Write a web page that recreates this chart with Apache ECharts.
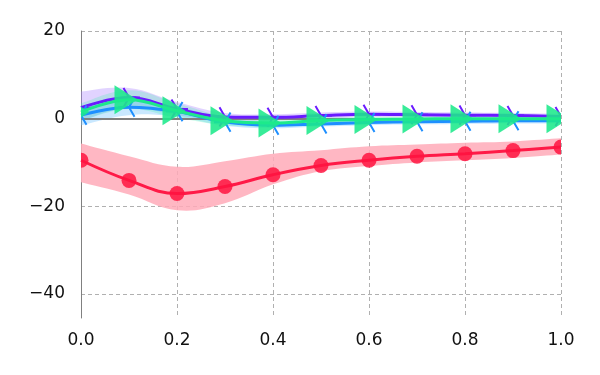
<!DOCTYPE html>
<html>
<head>
<meta charset="utf-8">
<script src="https://cdn.jsdelivr.net/npm/echarts@6/dist/echarts.min.js"></script>
<style>
  html, body { margin: 0; padding: 0; background: #fff; }
  #chart { width: 600px; height: 375px; }
</style>
</head>
<body>
<div id="chart"></div>
<script>
var xs = [0, 0.1, 0.2, 0.3, 0.4, 0.5, 0.6, 0.7, 0.8, 0.9, 1.0];

var redMean = [-9.5, -14.1, -17.1, -15.5, -12.8, -10.7, -9.5, -8.6, -8.0, -7.3, -6.5];
var redUp   = [-5.7, -8.6, -11.0, -9.7, -8.0, -7.2, -6.3, -5.9, -5.5, -5.2, -4.5];
var redLow  = [-14.5, -17.3, -20.9, -19.3, -15.0, -12.0, -10.8, -10.0, -9.5, -9.0, -8.2];

var purpleMean = [2.5, 4.8, 2.2, 0.4, 0.3, 0.7, 1.0, 0.9, 0.8, 0.7, 0.5];
var purpleUp   = [6.2, 7.0, 3.8, 1.3, 1.0, 1.4, 1.6, 1.5, 1.4, 1.3, 1.1];
var purpleLow  = [-0.5, 2.5, 0.8, -0.4, -0.4, 0.0, 0.4, 0.3, 0.2, 0.1, -0.1];

var blueMean = [0.8, 2.6, 1.6, -0.8, -1.5, -1.2, -0.9, -0.7, -0.6, -0.5, -0.5];
var blueUp   = [2.5, 4.5, 2.8, 0.0, -0.8, -0.6, -0.3, -0.1, 0.0, 0.1, 0.1];
var blueLow  = [-1.5, 0.8, 0.4, -1.6, -2.2, -1.8, -1.5, -1.3, -1.2, -1.1, -1.1];

var greenMean = [1.5, 4.3, 1.8, -0.5, -1.0, -0.4, -0.2, -0.1, 0.0, 0.0, 0.0];
var greenUp   = [3.5, 6.5, 3.5, 0.5, -0.3, 0.2, 0.4, 0.5, 0.6, 0.6, 0.6];
var greenLow  = [-0.5, 2.2, 0.2, -1.5, -1.8, -1.0, -0.8, -0.7, -0.6, -0.6, -0.6];

var yTicks = [-40, -20, 0, 20];

function pairs(ys) {
  return xs.map(function (x, i) { return [x, ys[i]]; });
}

// cubic path through pixel points
function curve(pts, start) {
  var k = 0.2, n = pts.length;
  var d = (start ? 'M' : 'L') + pts[0][0] + ',' + pts[0][1];
  for (var i = 0; i < n - 1; i++) {
    var p0 = pts[Math.max(i - 1, 0)], p1 = pts[i], p2 = pts[i + 1], p3 = pts[Math.min(i + 2, n - 1)];
    var c1 = [p1[0] + (p2[0] - p0[0]) * k, p1[1] + (p2[1] - p0[1]) * k];
    var c2 = [p2[0] - (p3[0] - p1[0]) * k, p2[1] - (p3[1] - p1[1]) * k];
    d += 'C' + c1.join(',') + ' ' + c2.join(',') + ' ' + p2.join(',');
  }
  return d;
}

function gridClip(params) {
  var c = params.coordSys;
  return { type: 'rect', shape: { x: c.x, y: c.y, width: c.width, height: c.height } };
}

// shaded band between low and up
function band(low, up, color, z) {
  return {
    type: 'custom', silent: true, z: z,
    data: xs.map(function (x, i) { return [x, low[i], up[i]]; }),
    renderItem: function (params, api) {
      if (params.dataIndex !== 0) return;
      var top = [], bot = [];
      for (var i = 0; i < xs.length; i++) {
        top.push(api.coord([xs[i], up[i]]));
        bot.unshift(api.coord([xs[i], low[i]]));
      }
      return {
        type: 'path',
        shape: { pathData: curve(top, true) + curve(bot, false) + 'Z' },
        style: { fill: color }
      };
    }
  };
}

function line(ys, color, z) {
  return {
    type: 'line', data: pairs(ys), smooth: 0.4, symbol: 'none', z: z,
    lineStyle: { color: color, width: 3 }
  };
}

// markers drawn as shapes at each data point, clipped to the grid
function markers(ys, kind, color, z) {
  return {
    type: 'custom', silent: true, z: z,
    data: pairs(ys),
    renderItem: function (params, api) {
      var p = api.coord([api.value(0), api.value(1)]);
      var x = p[0], y = p[1], el;
      if (kind === 'circle') {
        el = { type: 'circle', shape: { cx: x, cy: y, r: 7.5 }, style: { fill: color } };
      } else if (kind === 'tri') {
        el = {
          type: 'polygon',
          shape: { points: [[x - 14.5, y - 14.5], [x - 14.5, y + 14.5], [x + 8.5, y]] },
          style: { fill: color }
        };
      } else {
        var a = kind === 'triRight' ? [0, 120, 240] : [180, 60, 300];
        var d = '';
        a.forEach(function (deg) {
          var r = deg * Math.PI / 180;
          d += 'M' + x + ',' + y + 'L' + (x + 11 * Math.cos(r)) + ',' + (y - 11 * Math.sin(r));
        });
        el = { type: 'path', shape: { pathData: d }, style: { stroke: color, lineWidth: 2, fill: null } };
      }
      return { type: 'group', clipPath: gridClip(params), children: [el] };
    }
  };
}

var series = [
  band(redLow, redUp, 'rgba(255,170,185,0.85)', 1),
  band(purpleLow, purpleUp, 'rgba(170,130,255,0.35)', 1),
  band(blueLow, blueUp, 'rgba(100,190,255,0.35)', 1),
  band(greenLow, greenUp, 'rgba(60,240,170,0.25)', 1),
  {
    type: 'line', data: [], silent: true, z: 2,
    markLine: {
      symbol: 'none', silent: true, label: { show: false },
      lineStyle: { color: '#808080', width: 2, type: 'solid' },
      data: [{ yAxis: 0 }]
    }
  },
  line(redMean, '#ff1a47', 3),
  markers(redMean, 'circle', 'rgba(255,20,65,0.85)', 4),
  line(purpleMean, '#6a1bff', 5),
  markers(purpleMean, 'triRight', '#6a1bff', 6),
  line(blueMean, '#1e8fff', 7),
  markers(blueMean, 'triLeft', '#1e8fff', 8),
  line(greenMean, '#1de98b', 9),
  markers(greenMean, 'tri', 'rgba(29,233,139,0.88)', 10)
];

var chart = echarts.init(document.getElementById('chart'));
chart.setOption({
  animation: false,
  grid: { left: 81, right: 39, top: 31, bottom: 57 },
  xAxis: {
    type: 'value', min: 0, max: 1, interval: 0.2,
    axisLine: { show: false, onZero: false },
    axisTick: { show: false },
    axisLabel: {
      fontFamily: 'DejaVu Sans', fontSize: 17, color: '#111', margin: 14,
      formatter: function (v) { return v.toFixed(1); }
    },
    splitLine: { lineStyle: { color: '#b0b0b0', type: [4, 3], width: 1 } }
  },
  yAxis: {
    type: 'value', min: -45.5, max: 20,
    axisLine: { show: true, lineStyle: { color: '#808080', width: 1 } },
    axisTick: { show: false, customValues: yTicks },
    axisLabel: {
      customValues: yTicks,
      fontFamily: 'DejaVu Sans', fontSize: 17, color: '#111', margin: 16,
      formatter: function (v) { return v < 0 ? '\u2212' + Math.abs(v) : String(v); }
    },
    splitLine: { lineStyle: { color: '#b0b0b0', type: [4, 3], width: 1 } }
  },
  series: series
});
</script>
</body>
</html>
